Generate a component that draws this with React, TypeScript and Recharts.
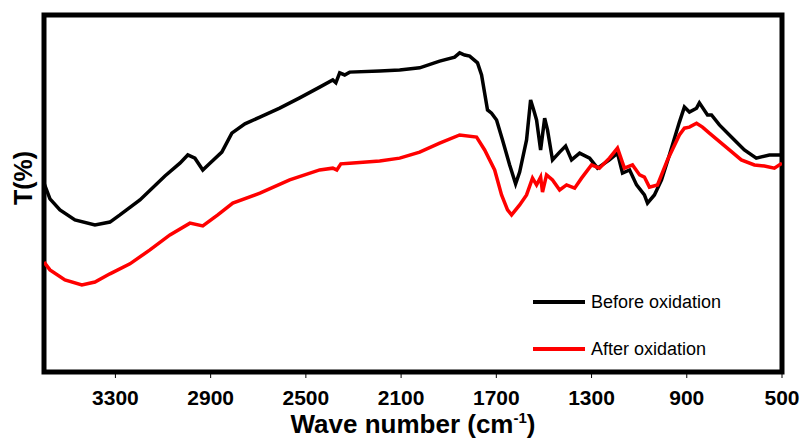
import { LineChart, Line, XAxis, YAxis, ReferenceArea } from "recharts";

// FTIR spectra, wave number (cm-1) and transmittance (arbitrary units)
const beforeWavenumber = [
  3600, 3575, 3533, 3470, 3386, 3323, 3281, 3197, 3092, 3029, 2996, 2966, 2933, 2903, 2853, 2811, 2756,
  2693, 2610, 2526, 2442, 2387, 2374, 2358, 2337, 2316, 2190, 2106, 2022, 1938, 1875, 1854, 1833, 1812,
  1779, 1762, 1737, 1720, 1699, 1674, 1644, 1619, 1602, 1573, 1556, 1543, 1531, 1514, 1497, 1485, 1464,
  1434, 1409, 1384, 1350, 1308, 1275, 1225, 1191, 1170, 1140, 1111, 1078, 1065, 1036, 1006, 973, 931,
  910, 889, 859, 847, 813, 796, 763, 700, 658, 608, 553, 500,
];
const beforeTransmittance = [
  52.9, 48.5, 45.4, 42.6, 41.2, 42.0, 44.0, 48.2, 54.9, 58.5, 60.8, 59.9, 56.6, 58.5, 61.6, 66.9, 69.5,
  71.4, 73.9, 76.8, 79.8, 81.8, 81.0, 83.8, 83.2, 84.0, 84.3, 84.6, 85.2, 87.1, 88.2, 89.4, 88.8, 88.5,
  86.6, 83.2, 73.4, 72.5, 70.6, 65.0, 58.0, 52.7, 56.0, 65.0, 76.2, 73.4, 70.6, 62.2, 71.1, 67.8, 59.4,
  61.6, 63.3, 59.4, 61.3, 59.9, 57.1, 59.4, 61.3, 55.7, 56.6, 52.4, 49.6, 47.3, 49.6, 53.8, 60.8, 70.0,
  74.2, 72.8, 73.9, 75.4, 72.0, 72.0, 69.2, 65.0, 62.2, 59.9, 60.8, 60.8,
];

const afterWavenumber = [
  3600, 3575, 3512, 3441, 3386, 3323, 3239, 3155, 3071, 2987, 2933, 2870, 2807, 2693, 2568, 2442, 2387,
  2370, 2353, 2316, 2190, 2106, 2022, 1938, 1854, 1783, 1749, 1707, 1678, 1653, 1636, 1602, 1573, 1548,
  1531, 1514, 1506, 1489, 1464, 1434, 1405, 1371, 1342, 1300, 1267, 1225, 1191, 1162, 1128, 1098, 1078,
  1057, 1023, 981, 931, 910, 889, 859, 834, 805, 721, 671, 616, 574, 532, 500,
];
const afterTransmittance = [
  30.8, 28.6, 25.8, 24.4, 25.2, 27.5, 30.3, 34.2, 38.4, 41.7, 40.9, 44.0, 47.3, 50.1, 53.8, 56.6, 57.1,
  56.6, 58.3, 58.5, 59.1, 59.9, 61.6, 64.1, 66.4, 65.8, 62.2, 56.6, 49.6, 45.4, 44.0, 46.8, 49.6, 54.3,
  52.4, 54.6, 50.4, 55.2, 53.8, 51.0, 52.4, 51.5, 54.3, 58.0, 57.1, 59.9, 62.7, 57.1, 58.0, 55.2, 54.6,
  51.8, 52.4, 59.4, 66.4, 68.3, 68.6, 69.7, 68.6, 66.9, 62.2, 59.4, 58.0, 57.7, 57.1, 58.5,
];

const xTicks = [3300, 2900, 2500, 2100, 1700, 1300, 900, 500];

const beforeData = beforeWavenumber.map((wn, i) => ({ wn, t: beforeTransmittance[i] }));
const afterData = afterWavenumber.map((wn, i) => ({ wn, t: afterTransmittance[i] }));

const font = "'Liberation Sans', Arial, sans-serif";

const LegendRow = ({ color, label, top }: { color: string; label: string; top: number }) => (
  <div style={{ position: "absolute", left: 533, top: top - 11, height: 22, display: "flex", alignItems: "center" }}>
    <div style={{ width: 52, height: 4, background: color, marginRight: 6 }} />
    <span style={{ fontFamily: font, fontSize: 18, color: "#000", whiteSpace: "nowrap" }}>{label}</span>
  </div>
);

export default function App() {
  return (
    <div style={{ position: "absolute", left: 0, top: 0, width: 801, height: 441, background: "#fff", overflow: "hidden" }}>
      <LineChart width={801} height={441} margin={{ top: 15, right: 19, left: 44, bottom: 0 }}>
        <XAxis
          dataKey="wn"
          type="number"
          domain={[500, 3600]}
          reversed
          ticks={xTicks}
          allowDataOverflow
          axisLine={false}
          tickLine={{ stroke: "#000" }}
          tickSize={6}
          tickMargin={12}
          height={69}
          tick={{ fill: "#000", fontSize: 21, fontWeight: "bold", fontFamily: font }}
        />
        <YAxis hide type="number" domain={[0, 100]} />
        <Line data={beforeData} dataKey="t" type="linear" stroke="#000" strokeWidth={3.5} dot={false} isAnimationActive={false} />
        <Line data={afterData} dataKey="t" type="linear" stroke="#ff0000" strokeWidth={3.5} dot={false} isAnimationActive={false} />
        <ReferenceArea x1={500} x2={3600} y1={0} y2={100} fill="none" stroke="#000" strokeWidth={5} ifOverflow="visible" />
      </LineChart>

      <LegendRow color="#000" label="Before oxidation" top={302} />
      <LegendRow color="#ff0000" label="After oxidation" top={349} />

      <div
        style={{
          position: "absolute",
          left: 213,
          width: 400,
          top: 411,
          textAlign: "center",
          fontFamily: font,
          fontSize: 26,
          fontWeight: "bold",
          lineHeight: "26px",
          whiteSpace: "nowrap",
        }}
      >
        Wave number (cm
        <span style={{ fontSize: 15, position: "relative", top: -10 }}>-1</span>)
      </div>

      <div
        style={{
          position: "absolute",
          left: 23,
          top: 178,
          transform: "translate(-50%, -50%) rotate(-90deg)",
          fontFamily: font,
          fontSize: 25,
          fontWeight: "bold",
          lineHeight: 1,
          whiteSpace: "nowrap",
        }}
      >
        T(%)
      </div>
    </div>
  );
}
